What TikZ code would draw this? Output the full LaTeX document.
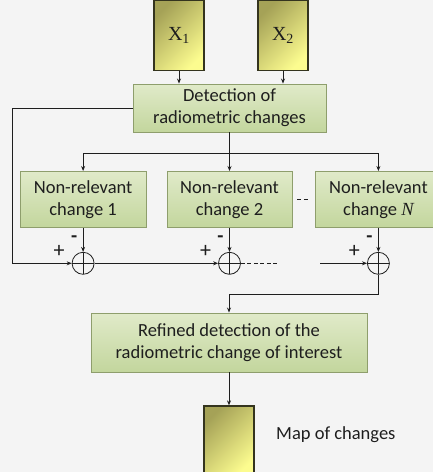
\documentclass[tikz,border=0pt]{standalone}
\usepackage{fontspec}
\setmainfont{Carlito}
\newfontfamily\timesfont{Liberation Serif}
\usepackage{tikz}
\usetikzlibrary{arrows.meta,positioning,calc}
\definecolor{paper}{HTML}{F4F4F4}
\definecolor{leaftop}{HTML}{E0EAC9}
\definecolor{leafbot}{HTML}{C3D69D}
\definecolor{leafedge}{HTML}{8E9E6C}
\definecolor{olive}{HTML}{A5A257}
\definecolor{lemon}{HTML}{FCFC8F}
\definecolor{oliveedge}{HTML}{34341E}
\definecolor{ink}{HTML}{1E1E1E}
\tikzset{
  greenbox/.style={
    rectangle, draw=leafedge, line width=0.9pt,
    top color=leaftop, bottom color=leafbot,
    font=\fontsize{18.5}{22}\selectfont, text=ink, align=center,
    inner sep=2pt
  },
  imgbox/.style={
    rectangle, draw=oliveedge, line width=1.3pt,
    top color=olive, bottom color=lemon, shading angle=45,
    minimum width=50pt, minimum height=70pt,
    font=\timesfont\fontsize{20}{22}\selectfont, text=ink
  },
  sumnode/.style={
    circle, draw=ink, line width=0.8pt, minimum size=22pt, inner sep=0pt,
    path picture={\draw[ink, line width=0.8pt]
      (path picture bounding box.north) -- (path picture bounding box.south)
      (path picture bounding box.west) -- (path picture bounding box.east);}
  },
  flow/.style={
    -{Stealth[length=5pt,width=4pt]}, line width=0.8pt, color=ink
  },
  plainline/.style={line width=0.8pt, color=ink},
  gapdash/.style={line width=0.8pt, color=ink, dash pattern=on 4pt off 2.5pt},
  signlbl/.style={font=\fontsize{22}{22}\selectfont, text=ink, inner sep=0pt},
}

\begin{document}
\begin{tikzpicture}[x=1pt, y=-1pt]
\fill[paper] (0,0) rectangle (433,472);
\useasboundingbox (0,0) rectangle (433,472);

% input images and first detection
\node[imgbox] (x1) at (179,35.5) {X\textsubscript{1}};
\node[imgbox] (x2) at (283,35.5) {X\textsubscript{2}};
\node[greenbox, minimum width=193pt, minimum height=48pt] (det) at (229.5,108)
  {Detection of\\radiometric changes};
\draw[flow] (x1.south) -- (x1.south |- det.north);
\draw[flow] (x2.south) -- (x2.south |- det.north);

% non-relevant changes
\coordinate (hub) at (229.5,153);
\node[greenbox, minimum width=125pt, minimum height=56pt, below=18pt of hub] (nr2)
  {Non-relevant\\change 2};
\node[greenbox, minimum width=126pt, minimum height=56pt, left=20pt of nr2] (nr1)
  {Non-relevant\\change 1};
\node[greenbox, minimum width=125pt, minimum height=56pt, right=23pt of nr2] (nrN)
  {Non-relevant\\change {\timesfont\itshape N}};
\draw[plainline] (det.south) -- (hub);
\draw[flow] (hub) -| (nr1.north);
\draw[flow] (hub) -| (nrN.north);
\draw[flow] (hub) -- (nr2.north);
\draw[gapdash, shorten <=5pt, shorten >=6pt] (nr2.east) -- (nrN.west);

% sums
\node[sumnode, below=24pt of nr1] (s1) {};
\node[sumnode, below=24pt of nr2] (s2) {};
\node[sumnode, below=24pt of nrN] (sN) {};
\foreach \s in {s1,s2,sN}{
  \node[signlbl] at ($(\s)+(-24,-12)$) {+};
  \node[signlbl, font=\fontsize{20}{20}\selectfont\bfseries] at ($(\s)+(-9,-24)$) {-};
}
\draw[flow] (nr1.south) -- (s1.north);
\draw[flow] (nr2.south) -- (s2.north);
\draw[flow] (nrN.south) -- (sN.north);

\coordinate (lft) at (12,0);
\draw[flow] (det.west) -| (lft |- s1) -- (s1.west);
\draw[flow] (s1.east) -- (s2.west);
\coordinate (gapL) at (278,0);
\coordinate (gapR) at (320,0);
\draw[gapdash] (s2.east) -- (gapL |- s2);
\draw[flow] (gapR |- sN) -- (sN.west);

% refined detection and output map
\node[greenbox, minimum width=276pt, minimum height=59pt] (ref) at (229,342.5)
  {Refined detection of the\\radiometric change of interest};
\draw[flow] (sN.south) -- ++(0,20) -| (ref.north);
\node[imgbox, minimum height=70pt] (map) at (229,441) {};
\draw[flow] (ref.south) -- (map.north);
\node[anchor=west, font=\fontsize{18.5}{22}\selectfont, text=ink, inner sep=0pt]
  (maplbl) at (276,435) {Map of changes};
\end{tikzpicture}
\end{document}
